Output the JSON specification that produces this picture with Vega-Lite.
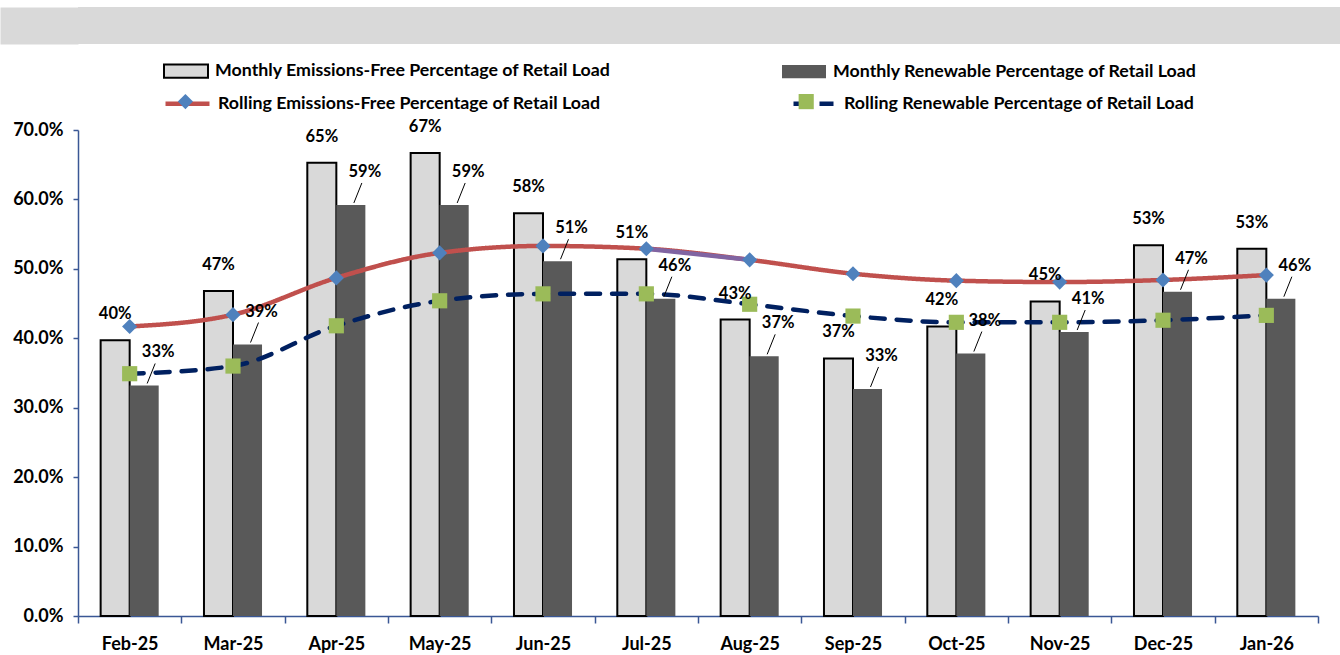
{
  "$schema": "https://vega.github.io/schema/vega-lite/v6.json",
  "padding": {"left": 0, "top": 7, "right": 0, "bottom": 0},
  "autosize": {"type": "pad"},
  "background": "white",
  "spacing": 74,
  "columns": 1,
  "bounds": "full",
  "config": {"view": {"stroke": null}, "font": "Lato"},
  "concat": [
    {
      "width": 1262,
      "height": 37,
      "data": {"values": [{"band": "header"}]},
      "mark": {"type": "rect", "color": "#D9D9D9"},
      "encoding": {
        "y": {
          "datum": 0, "type": "quantitative", "scale": {"domain": [0, 1]},
          "axis": {"title": null, "labels": false, "ticks": false, "grid": false, "domainColor": "#D9D9D9", "domainWidth": 78, "offset": 39, "minExtent": 0}
        },
        "y2": {"datum": 1}
      }
    },
    {
      "width": 1240,
      "height": 486,
      "data": {
        "values": [
          {"month": "Feb-25", "series": "Monthly Emissions-Free Percentage of Retail Load", "value": 0.397},
          {"month": "Feb-25", "series": "Monthly Renewable Percentage of Retail Load", "value": 0.332},
          {"month": "Feb-25", "series": "Rolling Emissions-Free Percentage of Retail Load", "value": 0.417},
          {"month": "Feb-25", "series": "Rolling Renewable Percentage of Retail Load", "value": 0.349},
          {"month": "Mar-25", "series": "Monthly Emissions-Free Percentage of Retail Load", "value": 0.468},
          {"month": "Mar-25", "series": "Monthly Renewable Percentage of Retail Load", "value": 0.391},
          {"month": "Mar-25", "series": "Rolling Emissions-Free Percentage of Retail Load", "value": 0.434},
          {"month": "Mar-25", "series": "Rolling Renewable Percentage of Retail Load", "value": 0.360},
          {"month": "Apr-25", "series": "Monthly Emissions-Free Percentage of Retail Load", "value": 0.653},
          {"month": "Apr-25", "series": "Monthly Renewable Percentage of Retail Load", "value": 0.592},
          {"month": "Apr-25", "series": "Rolling Emissions-Free Percentage of Retail Load", "value": 0.487},
          {"month": "Apr-25", "series": "Rolling Renewable Percentage of Retail Load", "value": 0.418},
          {"month": "May-25", "series": "Monthly Emissions-Free Percentage of Retail Load", "value": 0.667},
          {"month": "May-25", "series": "Monthly Renewable Percentage of Retail Load", "value": 0.592},
          {"month": "May-25", "series": "Rolling Emissions-Free Percentage of Retail Load", "value": 0.523},
          {"month": "May-25", "series": "Rolling Renewable Percentage of Retail Load", "value": 0.454},
          {"month": "Jun-25", "series": "Monthly Emissions-Free Percentage of Retail Load", "value": 0.580},
          {"month": "Jun-25", "series": "Monthly Renewable Percentage of Retail Load", "value": 0.511},
          {"month": "Jun-25", "series": "Rolling Emissions-Free Percentage of Retail Load", "value": 0.533},
          {"month": "Jun-25", "series": "Rolling Renewable Percentage of Retail Load", "value": 0.464},
          {"month": "Jul-25", "series": "Monthly Emissions-Free Percentage of Retail Load", "value": 0.514},
          {"month": "Jul-25", "series": "Monthly Renewable Percentage of Retail Load", "value": 0.457},
          {"month": "Jul-25", "series": "Rolling Emissions-Free Percentage of Retail Load", "value": 0.529},
          {"month": "Jul-25", "series": "Rolling Renewable Percentage of Retail Load", "value": 0.464},
          {"month": "Aug-25", "series": "Monthly Emissions-Free Percentage of Retail Load", "value": 0.427},
          {"month": "Aug-25", "series": "Monthly Renewable Percentage of Retail Load", "value": 0.374},
          {"month": "Aug-25", "series": "Rolling Emissions-Free Percentage of Retail Load", "value": 0.513},
          {"month": "Aug-25", "series": "Rolling Renewable Percentage of Retail Load", "value": 0.449},
          {"month": "Sep-25", "series": "Monthly Emissions-Free Percentage of Retail Load", "value": 0.371},
          {"month": "Sep-25", "series": "Monthly Renewable Percentage of Retail Load", "value": 0.327},
          {"month": "Sep-25", "series": "Rolling Emissions-Free Percentage of Retail Load", "value": 0.493},
          {"month": "Sep-25", "series": "Rolling Renewable Percentage of Retail Load", "value": 0.432},
          {"month": "Oct-25", "series": "Monthly Emissions-Free Percentage of Retail Load", "value": 0.417},
          {"month": "Oct-25", "series": "Monthly Renewable Percentage of Retail Load", "value": 0.378},
          {"month": "Oct-25", "series": "Rolling Emissions-Free Percentage of Retail Load", "value": 0.483},
          {"month": "Oct-25", "series": "Rolling Renewable Percentage of Retail Load", "value": 0.423},
          {"month": "Nov-25", "series": "Monthly Emissions-Free Percentage of Retail Load", "value": 0.453},
          {"month": "Nov-25", "series": "Monthly Renewable Percentage of Retail Load", "value": 0.409},
          {"month": "Nov-25", "series": "Rolling Emissions-Free Percentage of Retail Load", "value": 0.481},
          {"month": "Nov-25", "series": "Rolling Renewable Percentage of Retail Load", "value": 0.423},
          {"month": "Dec-25", "series": "Monthly Emissions-Free Percentage of Retail Load", "value": 0.534},
          {"month": "Dec-25", "series": "Monthly Renewable Percentage of Retail Load", "value": 0.467},
          {"month": "Dec-25", "series": "Rolling Emissions-Free Percentage of Retail Load", "value": 0.484},
          {"month": "Dec-25", "series": "Rolling Renewable Percentage of Retail Load", "value": 0.426},
          {"month": "Jan-26", "series": "Monthly Emissions-Free Percentage of Retail Load", "value": 0.529},
          {"month": "Jan-26", "series": "Monthly Renewable Percentage of Retail Load", "value": 0.457},
          {"month": "Jan-26", "series": "Rolling Emissions-Free Percentage of Retail Load", "value": 0.491},
          {"month": "Jan-26", "series": "Rolling Renewable Percentage of Retail Load", "value": 0.433}
        ]
      },
      "encoding": {
        "x": {
          "field": "month", "type": "nominal", "sort": null,
          "scale": {"paddingInner": 0, "paddingOuter": 0},
          "axis": {
            "title": null, "labelAngle": 0, "tickBand": "extent", "tickSize": 7, "labelPadding": 12,
            "labelFont": "Lato", "labelFontSize": 18, "labelFontWeight": "bold", "labelColor": "#000000",
            "domainColor": "#3A5795", "tickColor": "#3A5795", "domainWidth": 1.5, "tickWidth": 1.5, "grid": false
          }
        },
        "y": {
          "field": "value", "type": "quantitative",
          "scale": {"domain": [0, 0.7]},
          "axis": {
            "title": null, "format": ".1%", "values": [0, 0.1, 0.2, 0.3, 0.4, 0.5, 0.6, 0.7], "grid": false,
            "tickSize": 5, "labelPadding": 10, "minExtent": 78,
            "labelFont": "Lato", "labelFontSize": 18, "labelFontWeight": "bold", "labelColor": "#000000",
            "domainColor": "#3A5795", "tickColor": "#3A5795", "domainWidth": 1.5, "tickWidth": 1.5
          }
        }
      },
      "layer": [
        {
          "transform": [{"filter": "indexof(datum.series, 'Monthly') === 0"}],
          "mark": {"type": "bar"},
          "encoding": {
            "xOffset": {"field": "series", "type": "nominal", "scale": {"paddingOuter": 0.78, "paddingInner": 0}},
            "color": {
              "field": "series", "type": "nominal",
              "scale": {"range": ["#D9D9D9", "#595959"]},
              "legend": {
                "title": null, "orient": "none", "legendX": 85, "legendY": 41, "direction": "horizontal",
                "columns": 2, "columnPadding": 170, "padding": 0,
                "symbolType": "M-1,-0.3H1V0.3H-1Z", "symbolSize": 1936, "symbolStrokeColor": "#000000",
                "labelFont": "Lato", "labelFontSize": 17.8, "labelFontWeight": "bold",
                "labelColor": "#000000", "labelOffset": 6, "labelLimit": 800,
                "encode": {"symbols": {"update": {"stroke": {"value": "#000000"}}}}
              }
            },
            "stroke": {"value": "#000000"},
            "strokeWidth": {
              "field": "series", "type": "nominal",
              "scale": {"type": "point", "padding": 0, "range": [2, 0]},
              "legend": {
                "title": null, "orient": "none", "legendX": 85, "legendY": 41, "direction": "horizontal",
                "columns": 2, "columnPadding": 170, "padding": 0,
                "symbolType": "M-1,-0.3H1V0.3H-1Z", "symbolSize": 1936, "symbolStrokeColor": "#000000",
                "labelFont": "Lato", "labelFontSize": 17.8, "labelFontWeight": "bold",
                "labelColor": "#000000", "labelOffset": 6, "labelLimit": 800,
                "encode": {"symbols": {"update": {"stroke": {"value": "#000000"}}}}
              }
            }
          }
        },
        {
          "transform": [{"filter": "indexof(datum.series, 'Rolling') === 0"}],
          "mark": {"type": "line", "interpolate": "monotone", "strokeWidth": 4.5, "strokeCap": "round"},
          "encoding": {
            "stroke": {
              "field": "series", "type": "nominal",
              "scale": {"range": ["#C0504D", "#002060"]},
              "legend": {
                "title": null, "orient": "none", "legendX": 85, "legendY": 72, "direction": "horizontal",
                "columns": 2, "columnPadding": 181, "padding": 0,
                "symbolType": "stroke", "symbolSize": 1936, "symbolStrokeWidth": 4.5, "symbolDashOffset": 24,
                "labelFont": "Lato", "labelFontSize": 17.8, "labelFontWeight": "bold",
                "labelColor": "#000000", "labelOffset": 6, "labelLimit": 800
              }
            },
            "strokeDash": {
              "field": "series", "type": "nominal",
              "scale": {"range": [[1, 0], [14, 12]]},
              "legend": {
                "title": null, "orient": "none", "legendX": 85, "legendY": 72, "direction": "horizontal",
                "columns": 2, "columnPadding": 181, "padding": 0,
                "symbolType": "stroke", "symbolSize": 1936, "symbolStrokeWidth": 4.5, "symbolDashOffset": 24,
                "labelFont": "Lato", "labelFontSize": 17.8, "labelFontWeight": "bold",
                "labelColor": "#000000", "labelOffset": 6, "labelLimit": 800
              }
            }
          }
        },
        {
          "transform": [{"filter": "datum.series === 'Rolling Emissions-Free Percentage of Retail Load' && (datum.month === 'Jul-25' || datum.month === 'Aug-25')"}],
          "mark": {"type": "line", "strokeWidth": 4.5, "color": "#8064A2"},
          "encoding": {}
        },
        {
          "transform": [{"filter": "datum.series !== 'Monthly Emissions-Free Percentage of Retail Load' && datum.series !== 'Monthly Renewable Percentage of Retail Load'"}],
          "mark": {"type": "point", "filled": true, "size": 230, "opacity": 1, "strokeWidth": 0},
          "encoding": {
            "shape": {
              "field": "series", "type": "nominal",
              "scale": {"range": ["diamond", "square"]},
              "legend": {
                "title": null, "orient": "none", "legendX": 99.4, "legendY": 86.4, "direction": "horizontal",
                "columns": 2, "columnPadding": 604.8, "padding": 0,
                "symbolSize": 230, "symbolStrokeWidth": 0, "labelExpr": "''", "labelOffset": 0, "labelFontSize": 1
              }
            },
            "fill": {
              "field": "series", "type": "nominal",
              "scale": {"range": ["#4F81BD", "#9BBB59"]},
              "legend": {
                "title": null, "orient": "none", "legendX": 99.4, "legendY": 86.4, "direction": "horizontal",
                "columns": 2, "columnPadding": 604.8, "padding": 0,
                "symbolSize": 230, "symbolStrokeWidth": 0, "labelExpr": "''", "labelOffset": 0, "labelFontSize": 1
              }
            }
          }
        },
        {
          "transform": [{"filter": "datum.series === 'Monthly Emissions-Free Percentage of Retail Load'"}],
          "mark": {"type": "text", "font": "Lato", "fontWeight": "bold", "fontSize": 16.5, "dy": -26, "baseline": "middle", "color": "#000000"},
          "encoding": {
            "xOffset": {"field": "series", "type": "nominal"},
            "text": {"field": "value", "type": "quantitative", "format": ".0%"}
          }
        },
        {
          "transform": [{"filter": "datum.series === 'Monthly Renewable Percentage of Retail Load'"}],
          "mark": {"type": "point", "shape": "M0.15,-0.1L0.55,-1.1", "size": 1600, "color": "#000000", "stroke": "#000000", "strokeWidth": 1, "filled": false, "opacity": 1},
          "encoding": {
            "xOffset": {"field": "series", "type": "nominal"}
          }
        },
        {
          "transform": [{"filter": "datum.series === 'Monthly Renewable Percentage of Retail Load'"}],
          "mark": {"type": "text", "font": "Lato", "fontWeight": "bold", "fontSize": 16.5, "dx": 14, "dy": -33, "baseline": "middle", "color": "#000000"},
          "encoding": {
            "xOffset": {"field": "series", "type": "nominal"},
            "text": {"field": "value", "type": "quantitative", "format": ".0%"}
          }
        }
      ]
    }
  ]
}
